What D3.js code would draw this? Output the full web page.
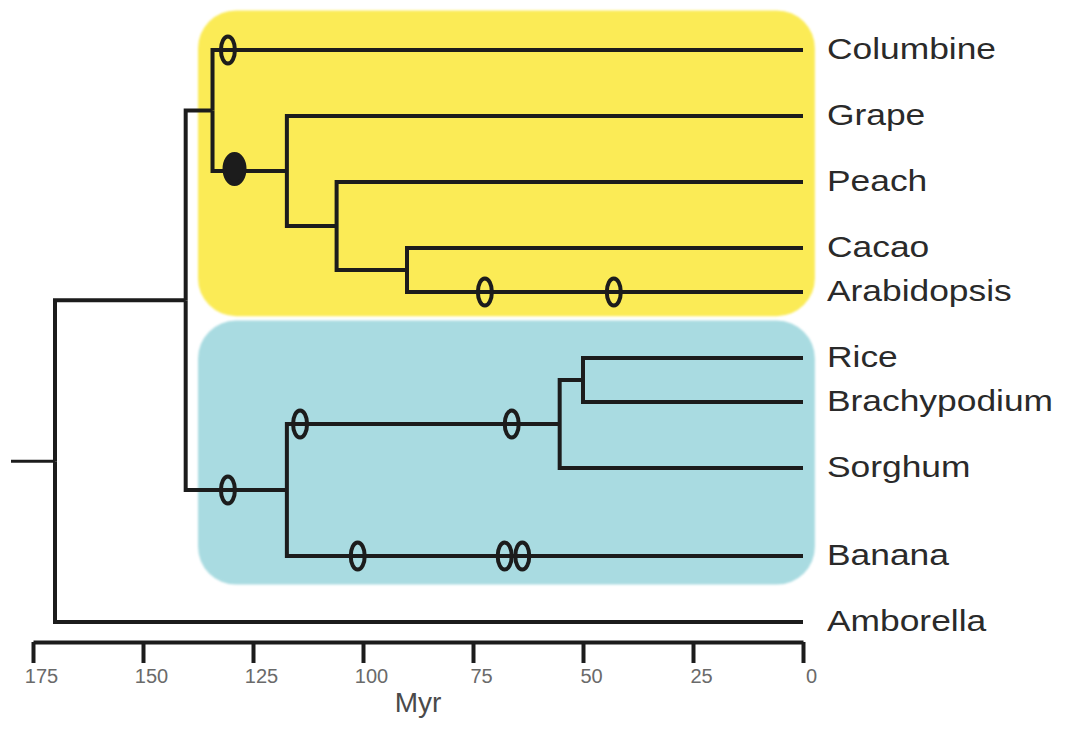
<!DOCTYPE html>
<html>
<head>
<meta charset="utf-8">
<script src="https://cdn.jsdelivr.net/npm/d3@7"></script>
<style>
    html, body { margin: 0; padding: 0; background: #fff; }
    svg { display: block; }
</style>
</head>
<body>
<div id="chart"></div>
<script>
"use strict";

// tips, top to bottom, with their row slot (in thirds of a line)
const taxa = ["Columbine", "Grape", "Peach", "Cacao", "Arabidopsis",
    "Rice", "Brachypodium", "Sorghum", "Banana", "Amborella"];
const tipRows = [0, 3, 6, 9, 11, 14, 16, 19, 23, 26];

// internal nodes: name, age (Myr), children
const cladeNames = ["root", "angio", "eudicot", "coreEudicot", "rosid", "malvid", "monocot", "grass", "pooid"];
const cladeAges = [170, 140.3, 134.2, 117.3, 106, 90, 117.3, 55.3, 50];
const cladeChildren = [
    ["angio", "Amborella"],
    ["eudicot", "monocot"],
    ["Columbine", "coreEudicot"],
    ["Grape", "rosid"],
    ["Peach", "malvid"],
    ["Cacao", "Arabidopsis"],
    ["grass", "Banana"],
    ["pooid", "Sorghum"],
    ["Rice", "Brachypodium"],
];
const rootStubAge = 180;

// genome duplication marks: branch (named by its child), age, filled?
const eventBranch = ["Columbine", "coreEudicot", "Arabidopsis", "Arabidopsis", "monocot", "grass", "grass", "Banana", "Banana", "Banana"];
const eventAge = [130.7, 129.2, 72.3, 43, 130.7, 114.3, 66.2, 101.2, 67.8, 63.8];
const eventFilled = [false, true, false, false, false, false, false, false, false, false];

const tickValues = [175, 150, 125, 100, 75, 50, 25, 0];

const width = 1066, height = 744;

const x = d3.scaleLinear().domain([175, 0]).range([33, 803]);
const y = d3.scaleLinear().domain([0, 26]).range([50, 622]);

// build the nested tree
function build(name) {
    const i = cladeNames.indexOf(name);
    if (i < 0) return {name: name, age: 0, row: tipRows[taxa.indexOf(name)]};
    return {name: name, age: cladeAges[i], children: cladeChildren[i].map(build)};
}
const root = d3.hierarchy(build("root"));
root.eachAfter((n) => {
    n.px = x(n.data.age);
    n.py = n.children ? d3.mean(n.children, (c) => c.py) : y(n.data.row);
});

const svg = d3.select("#chart").append("svg")
    .attr("width", width)
    .attr("height", height);

const defs = svg.append("defs");
defs.append("filter").attr("id", "soft")
    .append("feGaussianBlur").attr("stdDeviation", 1.2);

// clade boxes
const boxes = [
    {clade: "eudicot", fill: "#fbeb57", top: -1.8, bottom: 12.1},
    {clade: "monocot", fill: "#a9dbe1", top: 12.3, bottom: 24.3},
];
svg.append("g").selectAll("rect")
    .data(boxes)
    .join("rect")
    .attr("x", x(137.5))
    .attr("width", x(-2.7) - x(137.5))
    .attr("y", (d) => y(d.top))
    .attr("height", (d) => y(d.bottom) - y(d.top))
    .attr("rx", 38)
    .attr("fill", (d) => d.fill)
    .attr("filter", "url(#soft)");

const ink = "#1c1c1c";

// branches
const links = root.links();
svg.append("g")
    .attr("fill", "none")
    .attr("stroke", ink)
    .attr("stroke-width", 4)
    .selectAll("path")
    .data(links)
    .join("path")
    .attr("d", (d) => `M${d.source.px},${d.source.py}V${d.target.py}H${d.target.px}`);

svg.append("line")
    .attr("x1", x(rootStubAge)).attr("x2", root.px)
    .attr("y1", root.py).attr("y2", root.py)
    .attr("stroke", ink).attr("stroke-width", 3);

// duplication marks
const nodeByName = new Map(root.descendants().map((n) => [n.data.name, n]));
const events = eventBranch.map((b, i) => ({node: nodeByName.get(b), age: eventAge[i], filled: eventFilled[i]}));
svg.append("g").selectAll("ellipse")
    .data(events)
    .join("ellipse")
    .attr("cx", (d) => x(d.age))
    .attr("cy", (d) => d.node.py - (d.filled ? 2 : 0))
    .attr("rx", (d) => d.filled ? 10 : 7)
    .attr("ry", (d) => d.filled ? 15 : 13.5)
    .attr("fill", (d) => d.filled ? ink : "none")
    .attr("stroke", ink)
    .attr("stroke-width", 4);

// tip labels
svg.append("g").selectAll("text")
    .data(root.leaves())
    .join("text")
    .attr("transform", (d) => `translate(827,${d.py + 9}) scale(1.22,1)`)
    .style("font-family", "'Liberation Sans', Arial, sans-serif")
    .style("font-size", "29px")
    .attr("fill", "#2a2a2a")
    .text((d) => d.data.name);

// time axis
const axis = svg.append("g")
    .attr("transform", "translate(0,642)")
    .call(d3.axisBottom(x).tickValues(tickValues).tickSize(21).tickSizeOuter(0).tickPadding(6));
axis.select(".domain").attr("stroke", ink).attr("stroke-width", 4);
axis.selectAll(".tick line").attr("stroke", ink).attr("stroke-width", 4);
axis.selectAll(".tick text")
    .attr("dx", 8)
    .attr("fill", "#6a6a6a")
    .style("font-family", "'Liberation Sans', Arial, sans-serif")
    .style("font-size", "20px");

svg.append("text")
    .attr("x", (x(175) + x(0)) / 2)
    .attr("y", 712)
    .attr("text-anchor", "middle")
    .attr("fill", "#4a4a4a")
    .style("font-family", "'Liberation Sans', Arial, sans-serif")
    .style("font-size", "28px")
    .text("Myr");
</script>
</body>
</html>
